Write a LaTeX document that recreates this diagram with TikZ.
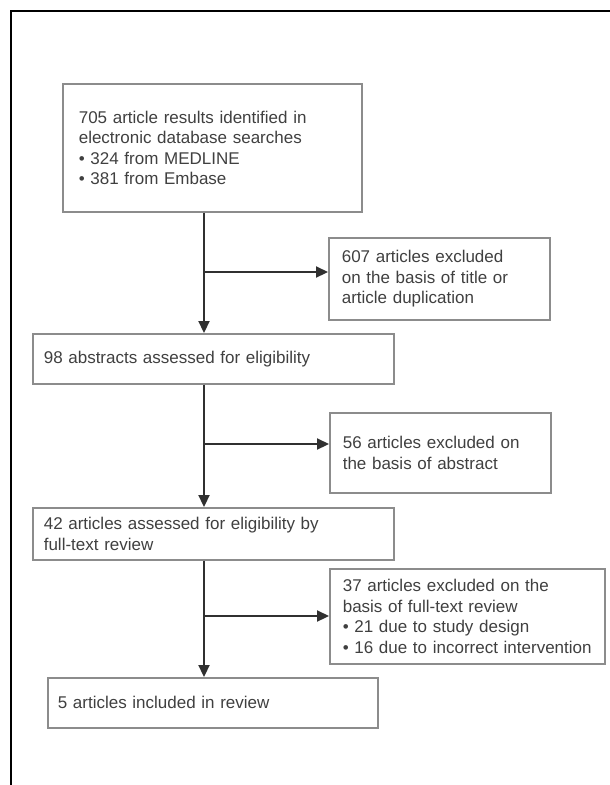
\documentclass[tikz,border=0pt]{standalone}
\usepackage{fontspec}
\setmainfont{Liberation Sans}
\usetikzlibrary{arrows.meta}
\definecolor{txt}{HTML}{404040}
\definecolor{boxline}{HTML}{8C8C8C}
\definecolor{arrline}{HTML}{303030}
\begin{document}
\begin{tikzpicture}[x=1pt,y=-1pt,
  box/.style={draw=boxline, line width=1.6pt, rectangle, anchor=north west,
    align=left, inner ysep=0pt, text=txt,
    font=\fontsize{17}{20.5}\selectfont},
  arr/.style={draw=arrline, line width=2.2pt,
    -{Triangle[length=12pt,width=11pt]}},
  frameline/.style={draw=black, line width=2pt}]
\useasboundingbox (0,0) rectangle (610,785);
\fill[white] (0,0) rectangle (610,785);
% outer frame
\draw[frameline] (11,786) -- (11,11) -- (611,11);
% boxes
\node[box, inner xsep=16pt, text width=267pt, minimum height=128pt] (s1) at (62,83)
  {705 article results identified in\\electronic database searches\\• 324 from MEDLINE\\• 381 from Embase};
\node[box, inner xsep=13pt, text width=195pt, minimum height=82pt] (e1) at (328,237)
  {607 articles excluded\\on the basis of title or\\article duplication};
\node[box, inner xsep=11pt, text width=339pt, minimum height=50pt] (s2) at (32,333)
  {98 abstracts assessed for eligibility};
\node[box, inner xsep=13pt, text width=195pt, minimum height=80pt] (e2) at (329,412)
  {56 articles excluded on\\the basis of abstract};
\node[box, inner xsep=11pt, text width=339pt, minimum height=52pt] (s3) at (32,507)
  {42 articles assessed for eligibility by\\full-text review};
\node[box, inner xsep=13pt, text width=249pt, minimum height=95pt] (e3) at (329,568)
  {37 articles excluded on the\\basis of full-text review\\• 21 due to study design\\• 16 due to incorrect intervention};
\node[box, inner xsep=10pt, text width=310pt, minimum height=50pt] (s4) at (47,677)
  {5 articles included in review};
% trunk
\coordinate (tx) at (204,0);
\coordinate (b1) at (204,272);
\coordinate (b2) at (204,444);
\coordinate (b3) at (204,616);
\draw[arr] (s1.south -| tx) -- (s2.north -| tx);
\draw[arr] (s2.south -| tx) -- (s3.north -| tx);
\draw[arr] (s3.south -| tx) -- (s4.north -| tx);
\draw[arr] (b1) -- (b1 -| e1.west);
\draw[arr] (b2) -- (b2 -| e2.west);
\draw[arr] (b3) -- (b3 -| e3.west);
\end{tikzpicture}
\end{document}
